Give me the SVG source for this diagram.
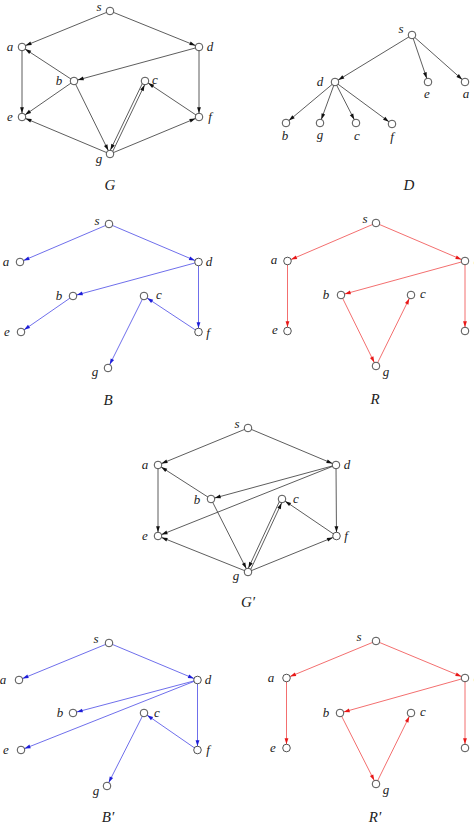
<svg xmlns="http://www.w3.org/2000/svg" width="474" height="826" viewBox="0 0 474 826">
<style>
.bg{fill:#fff}
.e{fill:none;stroke-width:0.8}
.k{stroke:#333;marker-end:url(#ak)}
.bl{stroke:#4a4ae6;marker-end:url(#ab)}
.rd{stroke:#f04a4a;marker-end:url(#ar)}
.n circle{fill:#fff;stroke:#333;stroke-width:0.85}
text{font-family:"Liberation Serif","DejaVu Serif",serif;font-style:italic;font-size:13px;fill:#222;text-anchor:middle}
.t{font-size:15px}
</style>
<defs>
<marker id="ak" viewBox="-8 -4 16 8" markerWidth="16" markerHeight="8" refX="3.8" refY="0" markerUnits="userSpaceOnUse" orient="auto"><path d="M0,0 L-6,-1.9 L-6,1.9 z" fill="#111"/></marker>
<marker id="ab" viewBox="-8 -4 16 8" markerWidth="16" markerHeight="8" refX="3.8" refY="0" markerUnits="userSpaceOnUse" orient="auto"><path d="M0,0 L-6,-1.9 L-6,1.9 z" fill="#1e1ed8"/></marker>
<marker id="ar" viewBox="-8 -4 16 8" markerWidth="16" markerHeight="8" refX="3.8" refY="0" markerUnits="userSpaceOnUse" orient="auto"><path d="M0,0 L-6,-1.9 L-6,1.9 z" fill="#e81818"/></marker>
</defs>
<rect class="bg" x="0" y="0" width="474" height="826"/>
<g id="connectors">
<!-- G -->
<line class="e k" x1="110" y1="11" x2="22" y2="47"/>
<line class="e k" x1="110" y1="11" x2="199" y2="47"/>
<line class="e k" x1="199" y1="47" x2="74" y2="81"/>
<line class="e k" x1="74" y1="81" x2="22" y2="47"/>
<line class="e k" x1="74" y1="81" x2="22" y2="117"/>
<line class="e k" x1="22" y1="47" x2="22" y2="117"/>
<line class="e k" x1="74" y1="81" x2="110" y2="154"/>
<line class="e k" x1="199" y1="47" x2="199" y2="117"/>
<line class="e k" x1="199" y1="117" x2="145" y2="81"/>
<line class="e k" x1="111.2" y1="154.6" x2="146.2" y2="81.6"/>
<line class="e k" x1="143.8" y1="80.4" x2="108.8" y2="153.4"/>
<line class="e k" x1="110" y1="154" x2="22" y2="117"/>
<line class="e k" x1="110" y1="154" x2="199" y2="117"/>
<!-- D -->
<line class="e k" x1="412" y1="35" x2="335" y2="82"/>
<line class="e k" x1="412" y1="35" x2="428" y2="82"/>
<line class="e k" x1="412" y1="35" x2="465" y2="82"/>
<line class="e k" x1="335" y1="82" x2="286" y2="123"/>
<line class="e k" x1="335" y1="82" x2="320" y2="123"/>
<line class="e k" x1="335" y1="82" x2="356" y2="123"/>
<line class="e k" x1="335" y1="82" x2="392" y2="124"/>
<!-- B -->
<line class="e bl" x1="109" y1="224" x2="20" y2="262"/>
<line class="e bl" x1="109" y1="224" x2="198.5" y2="262"/>
<line class="e bl" x1="198.5" y1="262" x2="73" y2="296"/>
<line class="e bl" x1="73" y1="296" x2="21" y2="332"/>
<line class="e bl" x1="198.5" y1="262" x2="198.5" y2="332"/>
<line class="e bl" x1="198.5" y1="332" x2="144" y2="296"/>
<line class="e bl" x1="144" y1="296" x2="108" y2="368"/>
<!-- R -->
<line class="e rd" x1="376" y1="223" x2="287.5" y2="261"/>
<line class="e rd" x1="376" y1="223" x2="465" y2="261"/>
<line class="e rd" x1="287.5" y1="261" x2="287.5" y2="331"/>
<line class="e rd" x1="465" y1="261" x2="341" y2="295"/>
<line class="e rd" x1="465" y1="261" x2="465" y2="331"/>
<line class="e rd" x1="341" y1="295" x2="376" y2="366"/>
<line class="e rd" x1="376" y1="366" x2="411" y2="295"/>
<!-- G' -->
<line class="e k" x1="248" y1="428" x2="158" y2="465"/>
<line class="e k" x1="248" y1="428" x2="336" y2="465"/>
<line class="e k" x1="211" y1="499" x2="158" y2="465"/>
<line class="e k" x1="158" y1="465" x2="158" y2="536"/>
<line class="e k" x1="336" y1="465" x2="211" y2="499"/>
<line class="e k" x1="336" y1="465" x2="158" y2="536"/>
<line class="e k" x1="336" y1="465" x2="336.5" y2="536"/>
<line class="e k" x1="336.5" y1="536" x2="282" y2="499"/>
<line class="e k" x1="249.2" y1="572.6" x2="283.2" y2="499.6"/>
<line class="e k" x1="280.8" y1="498.5" x2="246.8" y2="571.5"/>
<line class="e k" x1="211" y1="499" x2="248" y2="572"/>
<line class="e k" x1="248" y1="572" x2="158" y2="536"/>
<line class="e k" x1="248" y1="572" x2="336.5" y2="536"/>
<!-- B' -->
<line class="e bl" x1="109" y1="643" x2="19" y2="680"/>
<line class="e bl" x1="109" y1="643" x2="197.5" y2="680"/>
<line class="e bl" x1="197.5" y1="680" x2="73" y2="713"/>
<line class="e bl" x1="197.5" y1="680" x2="21" y2="750"/>
<line class="e bl" x1="197.5" y1="680" x2="197.5" y2="750"/>
<line class="e bl" x1="197.5" y1="750" x2="144" y2="713"/>
<line class="e bl" x1="144" y1="713" x2="107" y2="786"/>
<!-- R' -->
<line class="e rd" x1="376" y1="641" x2="286.5" y2="678"/>
<line class="e rd" x1="376" y1="641" x2="465" y2="678"/>
<line class="e rd" x1="286.5" y1="678" x2="286.5" y2="748"/>
<line class="e rd" x1="465" y1="678" x2="340" y2="713"/>
<line class="e rd" x1="465" y1="678" x2="465" y2="748"/>
<line class="e rd" x1="340" y1="713" x2="376" y2="784"/>
<line class="e rd" x1="376" y1="784" x2="411" y2="713"/>
</g>
<!-- G nodes -->
<g id="G-s" class="n"><circle cx="110" cy="11" r="3.8"/><text x="99" y="11">s</text></g>
<g id="G-a" class="n"><circle cx="22" cy="47" r="3.8"/><text x="10" y="51">a</text></g>
<g id="G-d" class="n"><circle cx="199" cy="47" r="3.8"/><text x="210" y="51">d</text></g>
<g id="G-b" class="n"><circle cx="74" cy="81" r="3.8"/><text x="59" y="85">b</text></g>
<g id="G-c" class="n"><circle cx="145" cy="81" r="3.8"/><text x="155" y="84">c</text></g>
<g id="G-e" class="n"><circle cx="22" cy="117" r="3.8"/><text x="10" y="121">e</text></g>
<g id="G-f" class="n"><circle cx="199" cy="117" r="3.8"/><text x="210" y="121">f</text></g>
<g id="G-g" class="n"><circle cx="110" cy="154" r="3.8"/><text x="99" y="163">g</text></g>
<text class="t" x="110" y="190">G</text>
<!-- D nodes -->
<g id="D-s" class="n"><circle cx="412" cy="35" r="3.8"/><text x="401" y="33">s</text></g>
<g id="D-d" class="n"><circle cx="335" cy="82" r="3.8"/><text x="320" y="86">d</text></g>
<g id="D-e" class="n"><circle cx="428" cy="82" r="3.8"/><text x="427" y="98">e</text></g>
<g id="D-a" class="n"><circle cx="465" cy="82" r="3.8"/><text x="466" y="98">a</text></g>
<g id="D-b" class="n"><circle cx="286" cy="123" r="3.8"/><text x="285" y="140">b</text></g>
<g id="D-g" class="n"><circle cx="320" cy="123" r="3.8"/><text x="320" y="139">g</text></g>
<g id="D-c" class="n"><circle cx="356" cy="123" r="3.8"/><text x="357" y="140">c</text></g>
<g id="D-f" class="n"><circle cx="392" cy="124" r="3.8"/><text x="392" y="141">f</text></g>
<text class="t" x="409" y="190">D</text>
<!-- B nodes -->
<g id="B-s" class="n"><circle cx="109" cy="224" r="3.8"/><text x="97" y="225">s</text></g>
<g id="B-a" class="n"><circle cx="20" cy="262" r="3.8"/><text x="6" y="266">a</text></g>
<g id="B-d" class="n"><circle cx="198.5" cy="262" r="3.8"/><text x="209" y="266">d</text></g>
<g id="B-b" class="n"><circle cx="73" cy="296" r="3.8"/><text x="59" y="300">b</text></g>
<g id="B-c" class="n"><circle cx="144" cy="296" r="3.8"/><text x="159" y="299">c</text></g>
<g id="B-e" class="n"><circle cx="21" cy="332" r="3.8"/><text x="7" y="336">e</text></g>
<g id="B-f" class="n"><circle cx="198.5" cy="332" r="3.8"/><text x="208" y="337">f</text></g>
<g id="B-g" class="n"><circle cx="108" cy="368" r="3.8"/><text x="95" y="376">g</text></g>
<text class="t" x="108" y="405">B</text>
<!-- R nodes -->
<g id="R-s" class="n"><circle cx="376" cy="223" r="3.8"/><text x="365" y="223">s</text></g>
<g id="R-a" class="n"><circle cx="287.5" cy="261" r="3.8"/><text x="274" y="264">a</text></g>
<g id="R-d" class="n"><circle cx="465" cy="261" r="3.8"/><text x="477" y="265">d</text></g>
<g id="R-b" class="n"><circle cx="341" cy="295" r="3.8"/><text x="326" y="299">b</text></g>
<g id="R-c" class="n"><circle cx="411" cy="295" r="3.8"/><text x="423" y="298">c</text></g>
<g id="R-e" class="n"><circle cx="287.5" cy="331" r="3.8"/><text x="275" y="334">e</text></g>
<g id="R-f" class="n"><circle cx="465" cy="331" r="3.8"/><text x="477" y="335">f</text></g>
<g id="R-g" class="n"><circle cx="376" cy="366" r="3.8"/><text x="386" y="376">g</text></g>
<text class="t" x="375" y="404">R</text>
<!-- G' nodes -->
<g id="Gp-s" class="n"><circle cx="248" cy="428" r="3.8"/><text x="237" y="428">s</text></g>
<g id="Gp-a" class="n"><circle cx="158" cy="465" r="3.8"/><text x="145" y="469">a</text></g>
<g id="Gp-d" class="n"><circle cx="336" cy="465" r="3.8"/><text x="347" y="469">d</text></g>
<g id="Gp-b" class="n"><circle cx="211" cy="499" r="3.8"/><text x="197" y="504">b</text></g>
<g id="Gp-c" class="n"><circle cx="282" cy="499" r="3.8"/><text x="296" y="503">c</text></g>
<g id="Gp-e" class="n"><circle cx="158" cy="536" r="3.8"/><text x="145" y="540">e</text></g>
<g id="Gp-f" class="n"><circle cx="336.5" cy="536" r="3.8"/><text x="346" y="540">f</text></g>
<g id="Gp-g" class="n"><circle cx="248" cy="572" r="3.8"/><text x="236" y="580">g</text></g>
<text class="t" x="248" y="607">G′</text>
<!-- B' nodes -->
<g id="Bp-s" class="n"><circle cx="109" cy="643" r="3.8"/><text x="96" y="643">s</text></g>
<g id="Bp-a" class="n"><circle cx="19" cy="680" r="3.8"/><text x="3" y="684">a</text></g>
<g id="Bp-d" class="n"><circle cx="197.5" cy="680" r="3.8"/><text x="208" y="684">d</text></g>
<g id="Bp-b" class="n"><circle cx="73" cy="713" r="3.8"/><text x="60" y="717">b</text></g>
<g id="Bp-c" class="n"><circle cx="144" cy="713" r="3.8"/><text x="157" y="717">c</text></g>
<g id="Bp-e" class="n"><circle cx="21" cy="750" r="3.8"/><text x="6" y="754">e</text></g>
<g id="Bp-f" class="n"><circle cx="197.5" cy="750" r="3.8"/><text x="208" y="754">f</text></g>
<g id="Bp-g" class="n"><circle cx="107" cy="786" r="3.8"/><text x="96" y="795">g</text></g>
<text class="t" x="108" y="822">B′</text>
<!-- R' nodes -->
<g id="Rp-s" class="n"><circle cx="376" cy="641" r="3.8"/><text x="359" y="641">s</text></g>
<g id="Rp-a" class="n"><circle cx="286.5" cy="678" r="3.8"/><text x="271" y="682">a</text></g>
<g id="Rp-d" class="n"><circle cx="465" cy="678" r="3.8"/><text x="477" y="682">d</text></g>
<g id="Rp-b" class="n"><circle cx="340" cy="713" r="3.8"/><text x="326" y="717">b</text></g>
<g id="Rp-c" class="n"><circle cx="411" cy="713" r="3.8"/><text x="423" y="716">c</text></g>
<g id="Rp-e" class="n"><circle cx="286.5" cy="748" r="3.8"/><text x="273" y="752">e</text></g>
<g id="Rp-f" class="n"><circle cx="465" cy="748" r="3.8"/><text x="477" y="752">f</text></g>
<g id="Rp-g" class="n"><circle cx="376" cy="784" r="3.8"/><text x="386" y="794">g</text></g>
<text class="t" x="375" y="822">R′</text>
</svg>
